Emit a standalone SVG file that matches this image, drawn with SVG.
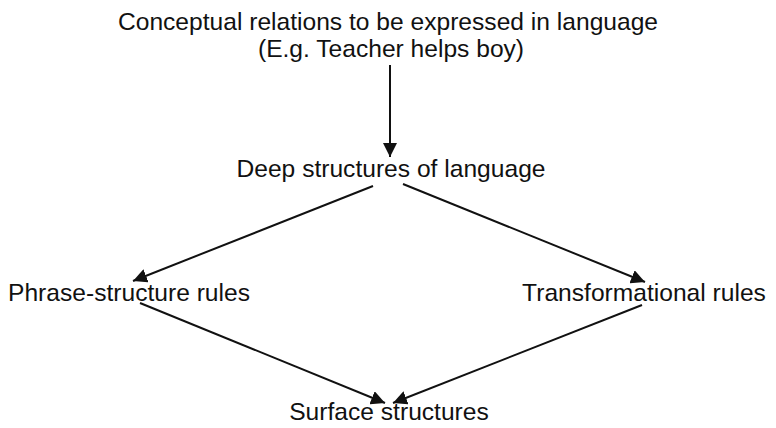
<svg xmlns="http://www.w3.org/2000/svg" width="776" height="428" viewBox="0 0 776 428">
  <style>
    .lbl { font-family: "Liberation Sans", Arial, sans-serif; font-size: 24.6px; fill: #111; text-anchor: middle; }
    .edge { stroke: #111; stroke-width: 2; fill: none; marker-end: url(#head); }
  </style>
  <defs>
    <marker id="head" markerUnits="userSpaceOnUse" markerWidth="16" markerHeight="14" refX="14" refY="7" orient="auto">
      <path d="M0,0 L14,7 L0,14 Z" fill="#111"/>
    </marker>
  </defs>
  <rect width="776" height="428" fill="#fff"/>

  <g id="concept">
    <text class="lbl" x="388" y="30">Conceptual relations to be expressed in language</text>
    <text class="lbl" x="391" y="57">(E.g. Teacher helps boy)</text>
  </g>
  <g id="deep">
    <text class="lbl" x="391" y="177">Deep structures of language</text>
  </g>
  <g id="phrase">
    <text class="lbl" x="129" y="301">Phrase-structure rules</text>
  </g>
  <g id="transform">
    <text class="lbl" x="644" y="301">Transformational rules</text>
  </g>
  <g id="surface">
    <text class="lbl" x="389" y="420">Surface structures</text>
  </g>

  <g id="connectors">
    <line class="edge" x1="390" y1="65" x2="390" y2="157"/>
    <line class="edge" x1="373" y1="186" x2="133" y2="281"/>
    <line class="edge" x1="403" y1="184" x2="645" y2="282"/>
    <line class="edge" x1="140" y1="303" x2="385" y2="403"/>
    <line class="edge" x1="642" y1="305" x2="393" y2="403"/>
  </g>
</svg>
